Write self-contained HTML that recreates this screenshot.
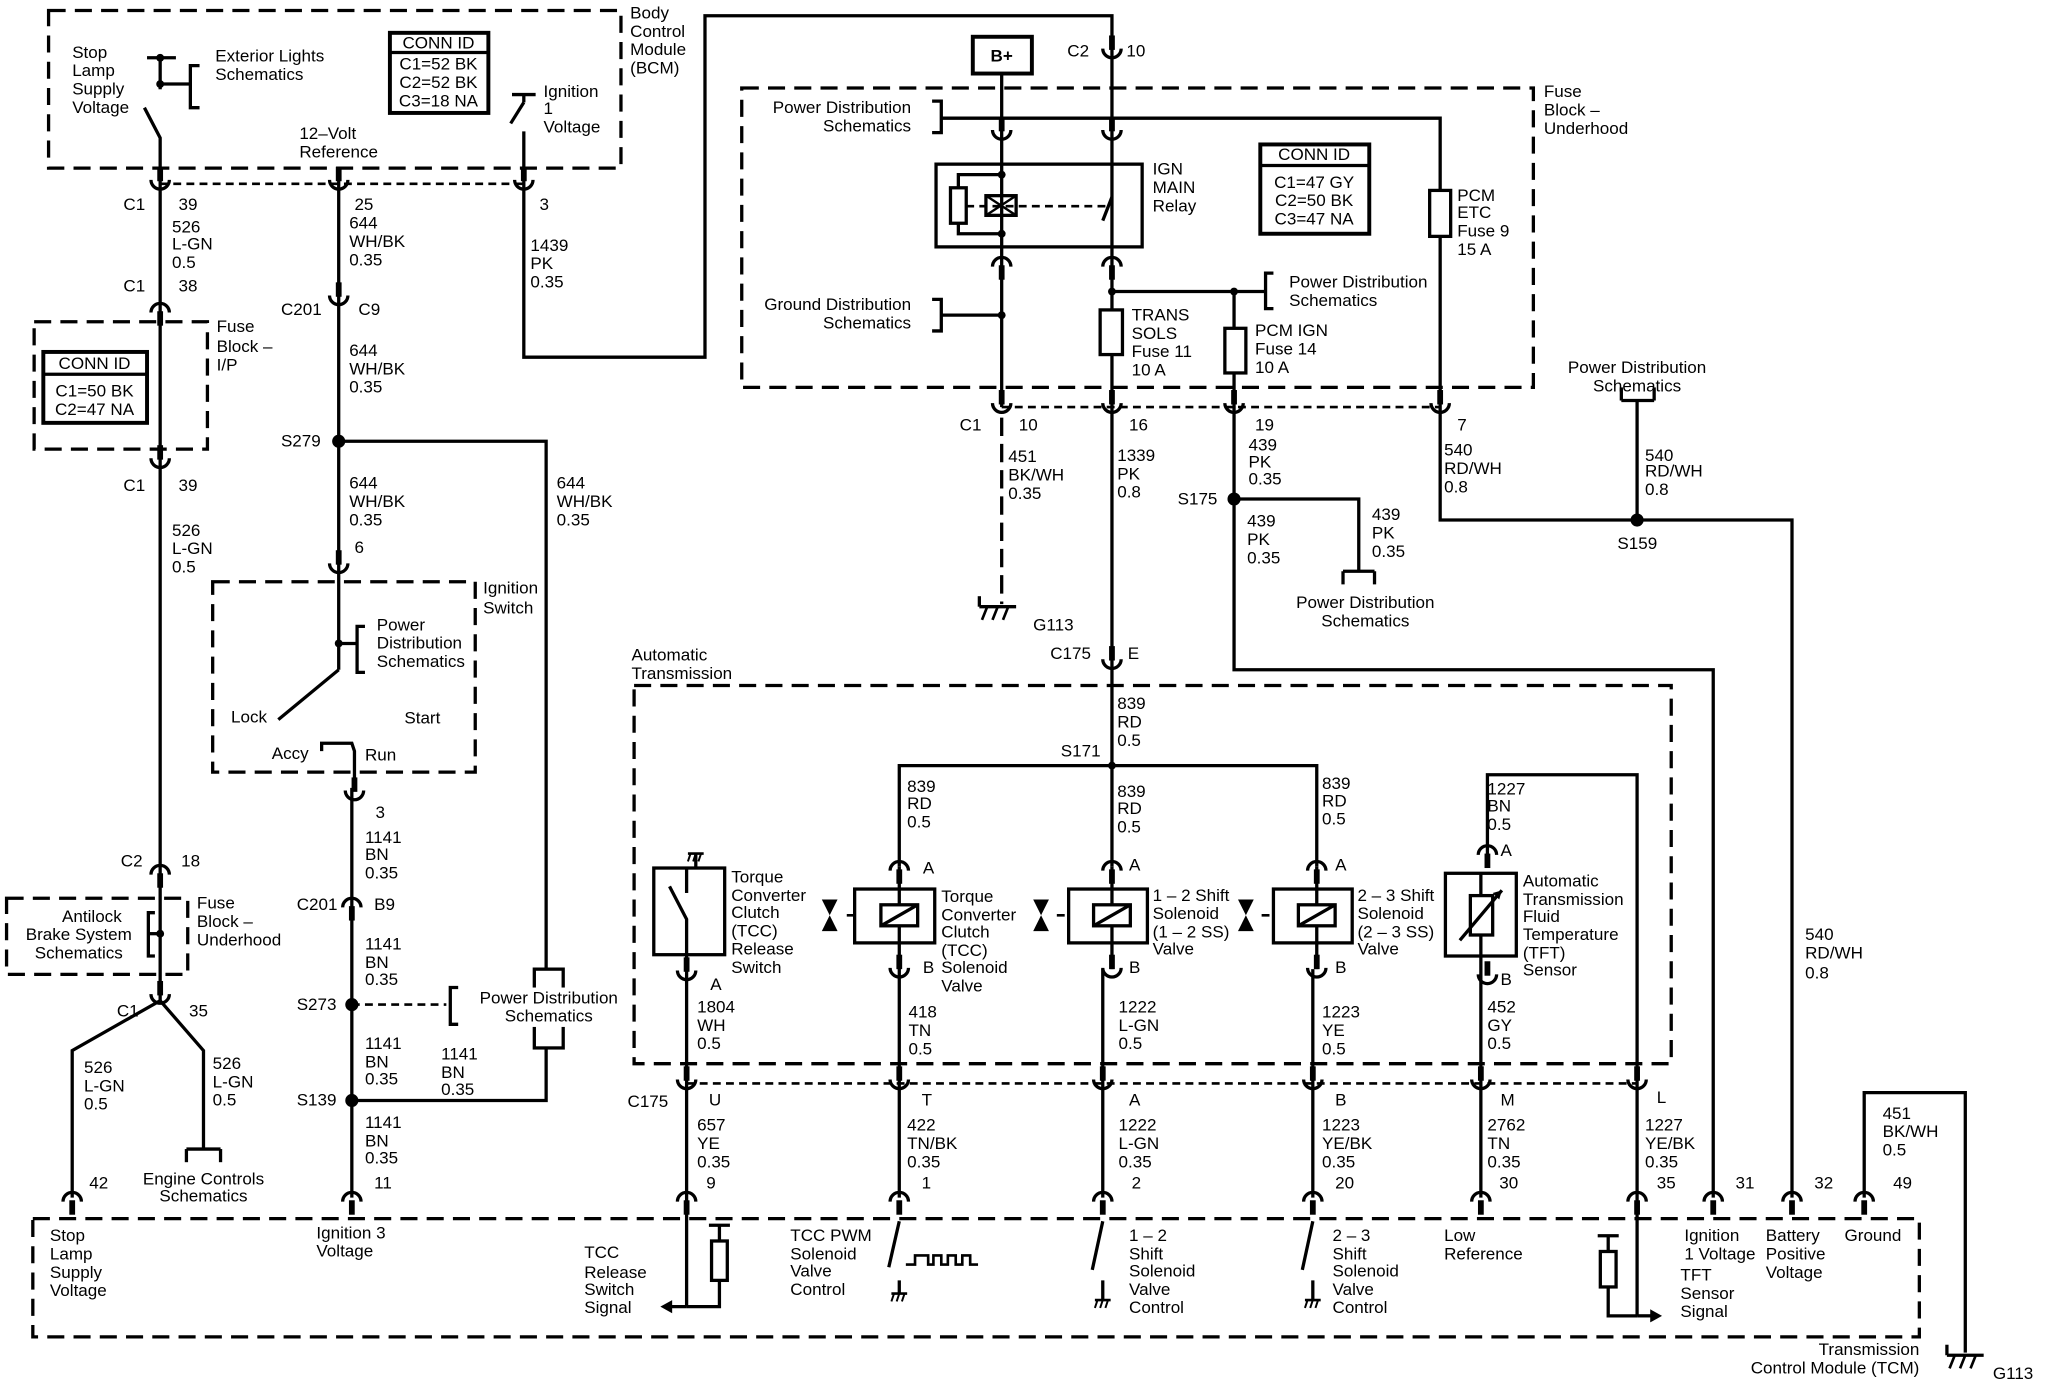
<!DOCTYPE html>
<html><head><meta charset="utf-8"><style>
html,body{margin:0;padding:0;background:#fff}
svg{display:block}
text{font-family:"Liberation Sans",sans-serif;font-size:13px;fill:#000}
</style></head><body>
<svg width="2048" height="1392" viewBox="0 0 1560 1060" preserveAspectRatio="none" xmlns="http://www.w3.org/2000/svg">
<defs>
<g id="cu"><path d="M-7,-3 A7,7 0 0 0 7,-3" fill="none" stroke="#000" stroke-width="2.5"/><rect x="-2.2" y="-13" width="4.4" height="11" fill="#000"/></g>
<g id="cn"><path d="M-7,3 A7,7 0 0 1 7,3" fill="none" stroke="#000" stroke-width="2.5"/><rect x="-2.2" y="2" width="4.4" height="11" fill="#000"/></g>
<g id="gnd"><line x1="-14" y1="0" x2="14" y2="0" stroke="#000" stroke-width="2.5"/><line x1="-14" y1="0" x2="-14" y2="-8" stroke="#000" stroke-width="2.5"/><line x1="-8" y1="0" x2="-12" y2="10" stroke="#000" stroke-width="2"/><line x1="0" y1="0" x2="-4" y2="10" stroke="#000" stroke-width="2"/><line x1="8" y1="0" x2="4" y2="10" stroke="#000" stroke-width="2"/></g>
<g id="sg"><line x1="-6" y1="0" x2="6" y2="0" stroke="#000" stroke-width="2"/><line x1="-4" y1="0" x2="-6" y2="6" stroke="#000" stroke-width="1.5"/><line x1="0" y1="0" x2="-2" y2="6" stroke="#000" stroke-width="1.5"/><line x1="4" y1="0" x2="2" y2="6" stroke="#000" stroke-width="1.5"/></g>
</defs>
<g fill="none" stroke="#000" stroke-width="2.5">
<g stroke-dasharray="13 7">
<rect x="37" y="8" width="436" height="120"/>
<rect x="26" y="245" width="132" height="97"/>
<rect x="162" y="443" width="200" height="145"/>
<rect x="5" y="684" width="138" height="58"/>
<rect x="565" y="67" width="603" height="228"/>
<rect x="483" y="522" width="790" height="288"/>
<rect x="25" y="928" width="1437" height="90"/>
</g>
<g stroke-dasharray="6 4" stroke-width="2">
<line x1="122" y1="140" x2="399" y2="140"/>
<line x1="763" y1="310" x2="1097" y2="310"/>
<line x1="523" y1="825" x2="1247" y2="825"/>
<line x1="268" y1="765" x2="340" y2="765"/>
<line x1="736" y1="157" x2="842" y2="157"/>
<line x1="645" y1="697" x2="651" y2="697"/><line x1="805" y1="697" x2="812" y2="697"/><line x1="961" y1="697" x2="968" y2="697"/>
</g>
<line x1="763" y1="318" x2="763" y2="460" stroke-dasharray="14 6"/>
<polyline points="110,82 122,105 122,762"/>
<line x1="112" y1="44" x2="134" y2="44"/><line x1="122" y1="44" x2="122" y2="68"/>
<line x1="122" y1="64" x2="145" y2="64"/><polyline points="152,50 145,50 145,82 152,82"/>
<polyline points="122,762 55,800 55,912"/>
<polyline points="122,762 155,800 155,875"/>
<line x1="142" y1="875" x2="168" y2="875"/><line x1="142" y1="875" x2="142" y2="885"/><line x1="168" y1="875" x2="168" y2="885"/>
<line x1="122" y1="711" x2="113" y2="711"/><polyline points="118,695 113,695 113,728 118,728"/>
<line x1="258" y1="128" x2="258" y2="510"/>
<polyline points="258,336 416,336 416,738"/>
<line x1="258" y1="490" x2="272" y2="490"/><polyline points="278,477 272,477 272,512 278,512"/>
<line x1="258" y1="510" x2="212" y2="548"/>
<polyline points="245,572 245,566 268,566 270,572 270,600"/>
<line x1="268" y1="600" x2="268" y2="912"/>
<polyline points="416,798 416,838 268,838"/>
<rect x="407" y="738" width="22" height="60"/>
<polyline points="349,752 343,752 343,780 349,780"/>
<line x1="390" y1="72" x2="408" y2="72"/><line x1="399" y1="72" x2="399" y2="78"/><line x1="399" y1="78" x2="389" y2="94"/>
<polyline points="399,100 399,272 537,272 537,12 847,12 847,310"/>
<line x1="847" y1="310" x2="847" y2="583"/>
<rect x="741" y="28" width="45" height="28" stroke-width="3"/>
<line x1="763" y1="56" x2="763" y2="310"/>
<polyline points="717,90 1097,90 1097,396 1365,396 1365,912"/>
<polyline points="710,77 717,77 717,101 710,101"/>
<rect x="713" y="125" width="157" height="63"/>
<rect x="724" y="143" width="12" height="27"/>
<polyline points="730,143 730,133 763,133"/><polyline points="730,170 730,178 763,178"/>
<rect x="751" y="149" width="23" height="15"/>
<line x1="751" y1="149" x2="774" y2="164" stroke-width="1.8"/><line x1="751" y1="164" x2="774" y2="149" stroke-width="1.8"/>
<line x1="847" y1="150" x2="840" y2="168"/>
<rect x="1089" y="145" width="16" height="35" fill="#fff"/>
<polyline points="847,222 940,222 940,380"/>
<polyline points="940,222 964,222"/><polyline points="970,208 964,208 964,235 970,235"/>
<polyline points="710,228 717,228 717,252 710,252"/><line x1="717" y1="240" x2="763" y2="240"/>
<rect x="838" y="236" width="17" height="34" fill="#fff"/>
<rect x="933" y="250" width="16" height="34" fill="#fff"/>
<polyline points="940,380 1035,380 1035,435"/>
<line x1="1023" y1="435" x2="1047" y2="435"/><line x1="1023" y1="435" x2="1023" y2="445"/><line x1="1047" y1="435" x2="1047" y2="445"/>
<polyline points="940,380 940,510 1305,510 1305,912"/>
<line x1="1247" y1="305" x2="1247" y2="396"/><line x1="1235" y1="305" x2="1260" y2="305"/><line x1="1235" y1="305" x2="1235" y2="295"/><line x1="1260" y1="305" x2="1260" y2="295"/>
<polyline points="1420,912 1420,832 1497,832 1497,1030"/>
<polyline points="685,660 685,583 1003,583 1003,660"/>
<line x1="847" y1="583" x2="847" y2="660"/>
<line x1="685" y1="660" x2="685" y2="912"/><line x1="847" y1="660" x2="847" y2="738"/><line x1="840" y1="738" x2="840" y2="912"/>
<line x1="1003" y1="660" x2="1003" y2="738"/><line x1="1000" y1="738" x2="1000" y2="912"/>
<rect x="651" y="677" width="61" height="41" fill="#fff"/><rect x="814" y="677" width="60" height="41" fill="#fff"/><rect x="970" y="677" width="60" height="41" fill="#fff"/>
<line x1="685" y1="677" x2="685" y2="718"/><line x1="847" y1="677" x2="847" y2="718"/><line x1="1003" y1="677" x2="1003" y2="718"/>
<rect x="671" y="689" width="28" height="16" fill="#fff"/><line x1="671" y1="705" x2="699" y2="689"/>
<rect x="833" y="689" width="28" height="16" fill="#fff"/><line x1="833" y1="705" x2="861" y2="689"/>
<rect x="989" y="689" width="28" height="16" fill="#fff"/><line x1="989" y1="705" x2="1017" y2="689"/>
<rect x="498" y="661" width="54" height="66"/>
<polyline points="523,727 523,700 510,675"/><line x1="523" y1="661" x2="523" y2="680"/><line x1="530" y1="650" x2="530" y2="661"/>
<line x1="523" y1="727" x2="523" y2="995"/>
<polyline points="1133,660 1133,590 1247,590 1247,1002"/>
<rect x="1101" y="665" width="54" height="63"/>
<line x1="1128" y1="665" x2="1128" y2="728"/>
<rect x="1120" y="682" width="17" height="30" fill="#fff"/>
<line x1="1112" y1="716" x2="1144" y2="678"/>
<line x1="1128" y1="728" x2="1128" y2="912"/>
<polyline points="523,995 548,995 548,975"/><rect x="542" y="945" width="12" height="30"/><line x1="548" y1="945" x2="548" y2="933"/><line x1="540" y1="933" x2="556" y2="933"/>
<line x1="523" y1="995" x2="510" y2="995"/>
<line x1="685" y1="930" x2="677" y2="965"/><line x1="685" y1="975" x2="685" y2="985"/>
<polyline points="690,963 697,963 697,956 707,956 707,963 711,963 711,956 717,956 717,963 722,963 722,956 728,956 728,963 733,963 733,956 739,956 739,963 745,963" stroke-width="2"/>
<line x1="840" y1="930" x2="832" y2="967"/><line x1="840" y1="975" x2="840" y2="990"/>
<line x1="1000" y1="930" x2="992" y2="967"/><line x1="1000" y1="975" x2="1000" y2="990"/>
<polyline points="1247,1002 1225,1002 1225,980"/><rect x="1219" y="953" width="12" height="27"/><line x1="1225" y1="953" x2="1225" y2="941"/><line x1="1217" y1="941" x2="1233" y2="941"/>
<line x1="1247" y1="1002" x2="1258" y2="1002"/>
</g>
<g fill="#000">
<circle cx="122" cy="44" r="3"/><circle cx="122" cy="64" r="3"/><circle cx="122" cy="711" r="3"/>
<circle cx="258" cy="336" r="5"/><circle cx="268" cy="765" r="5"/><circle cx="268" cy="838" r="5"/><circle cx="258" cy="490" r="3"/>
<circle cx="940" cy="380" r="5"/><circle cx="1247" cy="396" r="5"/><circle cx="847" cy="583" r="3"/>
<circle cx="847" cy="222" r="3"/><circle cx="940" cy="222" r="3"/><circle cx="763" cy="240" r="3"/>
<circle cx="763" cy="133" r="3"/><circle cx="763" cy="178" r="3"/>
<polygon points="503,995 512,990 512,1000"/><polygon points="1266,1002 1257,997 1257,1007"/>
<polygon points="1144,678 1137,680 1142,685"/>
<polygon points="626,685 638,685 632,697"/><polygon points="626,709 638,709 632,697"/>
<polygon points="787,685 799,685 793,697"/><polygon points="787,709 799,709 793,697"/>
<polygon points="943,685 955,685 949,697"/><polygon points="943,709 955,709 949,697"/>
</g>
<use href="#cu" x="122" y="140"/><use href="#cu" x="258" y="140"/><use href="#cu" x="399" y="140"/>
<use href="#cn" x="122" y="235"/><use href="#cu" x="258" y="228"/>
<use href="#cu" x="122" y="352"/><use href="#cu" x="258" y="432"/><use href="#cu" x="270" y="605"/>
<use href="#cn" x="268" y="688"/><use href="#cn" x="122" y="663"/><use href="#cu" x="122" y="760"/>
<use href="#cn" x="55" y="912"/><use href="#cn" x="268" y="912"/>
<use href="#cu" x="847" y="40"/>
<use href="#cu" x="763" y="102"/><use href="#cu" x="847" y="102"/>
<use href="#cn" x="763" y="200"/><use href="#cn" x="847" y="200"/>
<use href="#cu" x="763" y="310"/><use href="#cu" x="847" y="310"/><use href="#cu" x="940" y="310"/><use href="#cu" x="1097" y="310"/>
<use href="#cu" x="847" y="505"/>
<use href="#cn" x="685" y="660"/><use href="#cn" x="847" y="660"/><use href="#cn" x="1003" y="660"/><use href="#cn" x="1133" y="648"/>
<use href="#cu" x="685" y="740"/><use href="#cu" x="847" y="740"/><use href="#cu" x="1003" y="740"/><use href="#cu" x="1133" y="745"/><use href="#cu" x="523" y="742"/>
<use href="#cu" x="523" y="825"/><use href="#cu" x="685" y="825"/><use href="#cu" x="840" y="825"/><use href="#cu" x="1000" y="825"/><use href="#cu" x="1128" y="825"/><use href="#cu" x="1247" y="825"/>
<use href="#cn" x="523" y="912"/><use href="#cn" x="685" y="912"/><use href="#cn" x="840" y="912"/><use href="#cn" x="1000" y="912"/><use href="#cn" x="1128" y="912"/><use href="#cn" x="1247" y="912"/><use href="#cn" x="1305" y="912"/><use href="#cn" x="1365" y="912"/><use href="#cn" x="1420" y="912"/>
<use href="#gnd" x="760" y="462"/><use href="#gnd" x="1497" y="1032"/>
<use href="#sg" x="685" y="985"/><use href="#sg" x="840" y="990"/><use href="#sg" x="1000" y="990"/><use href="#sg" x="530" y="650"/>
<g fill="#fff" stroke="#000" stroke-width="3">
<rect x="297" y="25" width="75" height="61"/><rect x="33" y="268" width="79" height="54"/><rect x="960" y="110" width="83" height="68"/>
</g>
<g stroke="#000" stroke-width="2.5"><line x1="297" y1="40" x2="372" y2="40"/><line x1="33" y1="285" x2="112" y2="285"/><line x1="960" y1="126" x2="1043" y2="126"/></g>
<rect x="363" y="752" width="110" height="30" fill="#fff"/>
<g>
<text x="55" y="44">Stop</text><text x="55" y="58">Lamp</text><text x="55" y="72">Supply</text><text x="55" y="86">Voltage</text>
<text x="164" y="47">Exterior Lights</text><text x="164" y="61">Schematics</text>
<g text-anchor="middle"><text x="334" y="37">CONN ID</text><text x="334" y="53">C1=52 BK</text><text x="334" y="67">C2=52 BK</text><text x="334" y="81">C3=18 NA</text>
<text x="72" y="281">CONN ID</text><text x="72" y="302">C1=50 BK</text><text x="72" y="316">C2=47 NA</text>
<text x="1001" y="122">CONN ID</text><text x="1001" y="143">C1=47 GY</text><text x="1001" y="157">C2=50 BK</text><text x="1001" y="171">C3=47 NA</text>
<text x="70" y="702">Antilock</text><text x="60" y="716">Brake System</text><text x="60" y="730">Schematics</text>
<text x="155" y="902">Engine Controls</text><text x="155" y="915">Schematics</text>
<text x="418" y="764">Power Distribution</text><text x="418" y="778">Schematics</text>
<text x="1040" y="463">Power Distribution</text><text x="1040" y="477">Schematics</text>
<text x="1247" y="284">Power Distribution</text><text x="1247" y="298">Schematics</text>
<text x="763" y="47" font-weight="bold">B+</text>
</g>
<text x="414" y="74">Ignition</text><text x="414" y="87">1</text><text x="414" y="101">Voltage</text>
<text x="480" y="14">Body</text><text x="480" y="28">Control</text><text x="480" y="42">Module</text><text x="480" y="56">(BCM)</text>
<text x="228" y="106">12–Volt</text><text x="228" y="120">Reference</text>
<text x="94" y="160">C1</text><text x="136" y="160">39</text><text x="131" y="177">526</text><text x="131" y="190">L-GN</text><text x="131" y="204">0.5</text>
<text x="270" y="160">25</text><text x="266" y="174">644</text><text x="266" y="188">WH/BK</text><text x="266" y="202">0.35</text>
<text x="411" y="160">3</text><text x="404" y="191">1439</text><text x="404" y="205">PK</text><text x="404" y="219">0.35</text>
<text x="94" y="222">C1</text><text x="136" y="222">38</text>
<text x="165" y="253">Fuse</text><text x="165" y="268">Block –</text><text x="165" y="282">I/P</text>
<text x="214" y="240">C201</text><text x="273" y="240">C9</text>
<text x="266" y="271">644</text><text x="266" y="285">WH/BK</text><text x="266" y="299">0.35</text>
<text x="214" y="340">S279</text>
<text x="94" y="374">C1</text><text x="136" y="374">39</text><text x="131" y="408">526</text><text x="131" y="422">L-GN</text><text x="131" y="436">0.5</text>
<text x="266" y="372">644</text><text x="266" y="386">WH/BK</text><text x="266" y="400">0.35</text>
<text x="424" y="372">644</text><text x="424" y="386">WH/BK</text><text x="424" y="400">0.35</text>
<text x="270" y="421">6</text>
<text x="368" y="452">Ignition</text><text x="368" y="467">Switch</text>
<text x="287" y="480">Power</text><text x="287" y="494">Distribution</text><text x="287" y="508">Schematics</text>
<text x="176" y="550">Lock</text><text x="308" y="551">Start</text><text x="207" y="578">Accy</text><text x="278" y="579">Run</text>
<text x="286" y="623">3</text><text x="278" y="642">1141</text><text x="278" y="655">BN</text><text x="278" y="669">0.35</text>
<text x="92" y="660">C2</text><text x="138" y="660">18</text>
<text x="150" y="692">Fuse</text><text x="150" y="706">Block –</text><text x="150" y="720">Underhood</text>
<text x="226" y="693">C201</text><text x="285" y="693">B9</text>
<text x="278" y="723">1141</text><text x="278" y="737">BN</text><text x="278" y="750">0.35</text>
<text x="226" y="769">S273</text><text x="89" y="774">C1</text><text x="144" y="774">35</text>
<text x="278" y="799">1141</text><text x="278" y="813">BN</text><text x="278" y="826">0.35</text>
<text x="336" y="807">1141</text><text x="336" y="821">BN</text><text x="336" y="834">0.35</text>
<text x="226" y="842">S139</text>
<text x="278" y="859">1141</text><text x="278" y="873">BN</text><text x="278" y="886">0.35</text>
<text x="64" y="817">526</text><text x="64" y="831">L-GN</text><text x="64" y="845">0.5</text>
<text x="162" y="814">526</text><text x="162" y="828">L-GN</text><text x="162" y="842">0.5</text>
<text x="68" y="905">42</text><text x="285" y="905">11</text>
<text x="38" y="945">Stop</text><text x="38" y="959">Lamp</text><text x="38" y="973">Supply</text><text x="38" y="987">Voltage</text>
<text x="241" y="943">Ignition 3</text><text x="241" y="957">Voltage</text>
<text x="813" y="43">C2</text><text x="858" y="43">10</text>
<text x="1176" y="74">Fuse</text><text x="1176" y="88">Block –</text><text x="1176" y="102">Underhood</text>
<g text-anchor="end"><text x="694" y="86">Power Distribution</text><text x="694" y="100">Schematics</text>
<text x="694" y="236">Ground Distribution</text><text x="694" y="250">Schematics</text>
<text x="1462" y="1032">Transmission</text><text x="1462" y="1046">Control Module (TCM)</text></g>
<text x="878" y="133">IGN</text><text x="878" y="147">MAIN</text><text x="878" y="161">Relay</text>
<text x="1110" y="153">PCM</text><text x="1110" y="166">ETC</text><text x="1110" y="180">Fuse 9</text><text x="1110" y="194">15 A</text>
<text x="982" y="219">Power Distribution</text><text x="982" y="233">Schematics</text>
<text x="862" y="244">TRANS</text><text x="862" y="258">SOLS</text><text x="862" y="272">Fuse 11</text><text x="862" y="286">10 A</text>
<text x="956" y="256">PCM IGN</text><text x="956" y="270">Fuse 14</text><text x="956" y="284">10 A</text>
<text x="731" y="328">C1</text><text x="776" y="328">10</text><text x="860" y="328">16</text><text x="956" y="328">19</text><text x="1110" y="328">7</text>
<text x="768" y="352">451</text><text x="768" y="366">BK/WH</text><text x="768" y="380">0.35</text>
<text x="851" y="351">1339</text><text x="851" y="365">PK</text><text x="851" y="379">0.8</text>
<text x="951" y="343">439</text><text x="951" y="356">PK</text><text x="951" y="369">0.35</text>
<text x="897" y="384">S175</text>
<text x="1045" y="396">439</text><text x="1045" y="410">PK</text><text x="1045" y="424">0.35</text>
<text x="950" y="401">439</text><text x="950" y="415">PK</text><text x="950" y="429">0.35</text>
<text x="1100" y="347">540</text><text x="1100" y="361">RD/WH</text><text x="1100" y="375">0.8</text>
<text x="1253" y="351">540</text><text x="1253" y="363">RD/WH</text><text x="1253" y="377">0.8</text>
<text x="1232" y="418">S159</text>
<text x="787" y="480">G113</text>
<text x="800" y="502">C175</text><text x="859" y="502">E</text>
<text x="481" y="503">Automatic</text><text x="481" y="517">Transmission</text>
<text x="851" y="540">839</text><text x="851" y="554">RD</text><text x="851" y="568">0.5</text>
<text x="808" y="576">S171</text>
<text x="691" y="603">839</text><text x="691" y="616">RD</text><text x="691" y="630">0.5</text>
<text x="851" y="607">839</text><text x="851" y="620">RD</text><text x="851" y="634">0.5</text>
<text x="1007" y="601">839</text><text x="1007" y="614">RD</text><text x="1007" y="628">0.5</text>
<text x="1133" y="605">1227</text><text x="1133" y="618">BN</text><text x="1133" y="632">0.5</text>
<text x="703" y="665">A</text><text x="860" y="663">A</text><text x="1017" y="663">A</text><text x="1143" y="652">A</text>
<text x="557" y="672">Torque</text><text x="557" y="686">Converter</text><text x="557" y="699">Clutch</text><text x="557" y="713">(TCC)</text><text x="557" y="727">Release</text><text x="557" y="741">Switch</text>
<text x="717" y="687">Torque</text><text x="717" y="701">Converter</text><text x="717" y="714">Clutch</text><text x="717" y="728">(TCC)</text><text x="717" y="741">Solenoid</text><text x="717" y="755">Valve</text>
<text x="878" y="686">1 – 2 Shift</text><text x="878" y="700">Solenoid</text><text x="878" y="714">(1 – 2 SS)</text><text x="878" y="727">Valve</text>
<text x="1034" y="686">2 – 3 Shift</text><text x="1034" y="700">Solenoid</text><text x="1034" y="714">(2 – 3 SS)</text><text x="1034" y="727">Valve</text>
<text x="1160" y="675">Automatic</text><text x="1160" y="689">Transmission</text><text x="1160" y="702">Fluid</text><text x="1160" y="716">Temperature</text><text x="1160" y="730">(TFT)</text><text x="1160" y="743">Sensor</text>
<text x="703" y="741">B</text><text x="860" y="741">B</text><text x="1017" y="741">B</text><text x="1143" y="750">B</text><text x="541" y="754">A</text>
<text x="1375" y="716">540</text><text x="1375" y="730">RD/WH</text><text x="1375" y="745">0.8</text>
<text x="531" y="771">1804</text><text x="531" y="785">WH</text><text x="531" y="799">0.5</text>
<text x="692" y="775">418</text><text x="692" y="789">TN</text><text x="692" y="803">0.5</text>
<text x="852" y="771">1222</text><text x="852" y="785">L-GN</text><text x="852" y="799">0.5</text>
<text x="1007" y="775">1223</text><text x="1007" y="789">YE</text><text x="1007" y="803">0.5</text>
<text x="1133" y="771">452</text><text x="1133" y="785">GY</text><text x="1133" y="799">0.5</text>
<text x="478" y="843">C175</text><text x="540" y="842">U</text><text x="702" y="842">T</text><text x="860" y="842">A</text><text x="1017" y="842">B</text><text x="1143" y="842">M</text><text x="1262" y="840">L</text>
<text x="531" y="861">657</text><text x="531" y="875">YE</text><text x="531" y="889">0.35</text>
<text x="691" y="861">422</text><text x="691" y="875">TN/BK</text><text x="691" y="889">0.35</text>
<text x="852" y="861">1222</text><text x="852" y="875">L-GN</text><text x="852" y="889">0.35</text>
<text x="1007" y="861">1223</text><text x="1007" y="875">YE/BK</text><text x="1007" y="889">0.35</text>
<text x="1133" y="861">2762</text><text x="1133" y="875">TN</text><text x="1133" y="889">0.35</text>
<text x="1253" y="861">1227</text><text x="1253" y="875">YE/BK</text><text x="1253" y="889">0.35</text>
<text x="1434" y="852">451</text><text x="1434" y="866">BK/WH</text><text x="1434" y="880">0.5</text>
<text x="538" y="905">9</text><text x="702" y="905">1</text><text x="862" y="905">2</text><text x="1017" y="905">20</text><text x="1142" y="905">30</text><text x="1262" y="905">35</text><text x="1322" y="905">31</text><text x="1382" y="905">32</text><text x="1442" y="905">49</text>
<text x="445" y="958">TCC</text><text x="445" y="973">Release</text><text x="445" y="986">Switch</text><text x="445" y="1000">Signal</text>
<text x="602" y="945">TCC PWM</text><text x="602" y="959">Solenoid</text><text x="602" y="972">Valve</text><text x="602" y="986">Control</text>
<text x="860" y="945">1 – 2</text><text x="860" y="959">Shift</text><text x="860" y="972">Solenoid</text><text x="860" y="986">Valve</text><text x="860" y="1000">Control</text>
<text x="1015" y="945">2 – 3</text><text x="1015" y="959">Shift</text><text x="1015" y="972">Solenoid</text><text x="1015" y="986">Valve</text><text x="1015" y="1000">Control</text>
<text x="1100" y="945">Low</text><text x="1100" y="959">Reference</text>
<text x="1280" y="975">TFT</text><text x="1280" y="989">Sensor</text><text x="1280" y="1003">Signal</text>
<text x="1283" y="945">Ignition</text><text x="1283" y="959">1 Voltage</text>
<text x="1345" y="945">Battery</text><text x="1345" y="959">Positive</text><text x="1345" y="973">Voltage</text>
<text x="1405" y="945">Ground</text>
<text x="1518" y="1050">G113</text>
</g>
</svg>
</body></html>
